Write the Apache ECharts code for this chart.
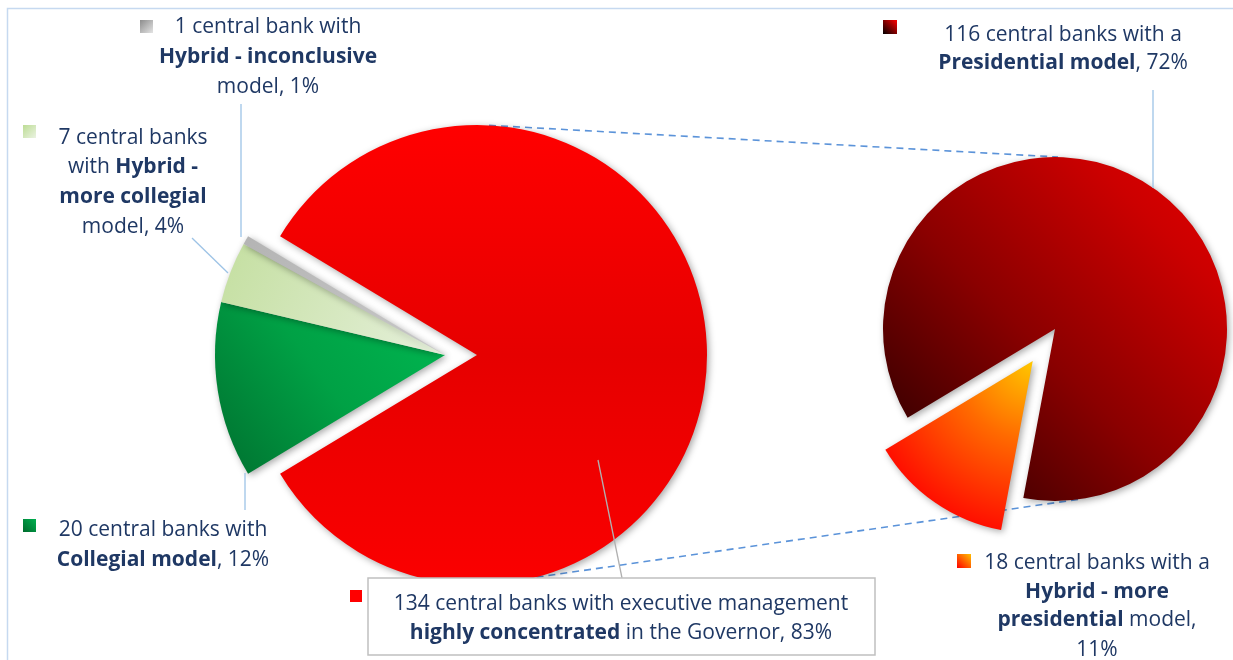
<!DOCTYPE html>
<html><head><meta charset="utf-8">
<script src="https://cdn.jsdelivr.net/npm/echarts@6/dist/echarts.min.js"></script>
<style>html,body{margin:0;padding:0;background:#fff}#c{width:1233px;height:660px}</style>
</head><body><div id="c"></div>
<script>
// ---- data ----
const mainCategories = ['Highly concentrated in the Governor', 'Collegial model', 'Hybrid - more collegial', 'Hybrid - inconclusive'];
const mainValues = [134, 20, 7, 1];
const subCategories = ['Presidential model', 'Hybrid - more presidential'];
const subValues = [116, 18];

const labelGray = ['1 central bank with', '{b|Hybrid - inconclusive}', 'model, 1%'];
const labelLightGreen = ['7 central banks', 'with {b|Hybrid -}', '{b|more collegial}', 'model, 4%'];
const labelGreen = ['20 central banks with', '{b|Collegial model}, 12%'];
const labelRed = ['134 central banks with executive management', '{b|highly concentrated} in the Governor, 83%'];
const labelPres = ['116 central banks with a', '{b|Presidential model}, 72%'];
const labelOrange = ['18 central banks with a', '{b|Hybrid - more}', '{b|presidential} model,', '11%'];

// ---- layout ----
const L = {cx: 445, cy: 355, r: 230, off: 32};
const R = {cx: 1055, cy: 329, r: 172, off: 39};
const FONT = '"Open Sans", Lato, sans-serif';
const FS = 21;
const TXT = '#1f3864';

const G = echarts.graphic;
const mainTotal = mainValues.reduce((a, b) => a + b, 0);
const subTotal = subValues.reduce((a, b) => a + b, 0);
const mainStart = 180 * mainValues[0] / mainTotal;
const subStart = 235.2 + 360 * (subValues[0] + subValues[1] / 2) / subTotal - 360;

const shadow = {shadowBlur: 7, shadowColor: 'rgba(0,0,0,0.35)', shadowOffsetX: 2, shadowOffsetY: 2};

const mainColors = [
  new G.LinearGradient(0, 0, 0, 1, [{offset: 0, color: '#ff0000'}, {offset: 0.5, color: '#e60000'}, {offset: 1, color: '#fb0000'}]),
  new G.LinearGradient(1, 0, 0, 1, [{offset: 0, color: '#00b851'}, {offset: 0.5, color: '#00a145'}, {offset: 1, color: '#00702f'}]),
  new G.LinearGradient(0, 0, 1, 1, [{offset: 0, color: '#c4dfa0'}, {offset: 1, color: '#e6f0dc'}]),
  new G.LinearGradient(0, 0, 1, 1, [{offset: 0, color: '#b4b4b4'}, {offset: 1, color: '#c8c8c8'}])
];
const subColors = [
  new G.LinearGradient(0, 1, 1, 0, [{offset: 0, color: '#1e0000'}, {offset: 0.45, color: '#8a0000'}, {offset: 0.8, color: '#cc0000'}, {offset: 1, color: '#e40000'}]),
  new G.RadialGradient(1, 0, 1.2, [{offset: 0, color: '#ffc800'}, {offset: 0.45, color: '#ff6a00'}, {offset: 1, color: '#ff0a00'}])
];

function pt(c, radius, deg) {
  const a = deg * Math.PI / 180;
  return [c[0] + radius * Math.cos(a), c[1] - radius * Math.sin(a)];
}

const graphics = [];
// frame
graphics.push({type: 'rect', z: 0, shape: {x: 7.5, y: 8.5, width: 1300, height: 700}, style: {fill: 'none', stroke: '#c6d9f0', lineWidth: 1.5}, silent: true});

// connector dashed lines
const redC = [L.cx + L.off, L.cy];
const t1 = pt(redC, L.r, 87), t2 = pt([R.cx, R.cy], R.r, 89);
const b1 = pt(redC, L.r, -75), b2 = pt([R.cx, R.cy], R.r, -81.7);
[[t1, t2], [b1, b2]].forEach(([p, q]) => graphics.push({
  type: 'line', z: 1, shape: {x1: p[0], y1: p[1], x2: q[0], y2: q[1]},
  style: {stroke: '#5b93d9', lineWidth: 1.6, lineDash: [7, 5]}, silent: true
}));

// leader lines
const leaders = [
  [[241, 104], [241, 237], '#9dc3e6'],
  [[192, 238], [228, 273], '#9dc3e6'],
  [[245, 473], [245, 510], '#9dc3e6'],
  [[1153, 90], [1153, 188], '#9dc3e6'],
  [[598, 460], [622, 578], '#b0b0b0']
];
leaders.forEach(([p, q, col]) => graphics.push({
  type: 'line', z: 10, shape: {x1: p[0], y1: p[1], x2: q[0], y2: q[1]},
  style: {stroke: col, lineWidth: 1.3}, silent: true
}));

// red label box
graphics.push({type: 'rect', z: 11, shape: {x: 368, y: 578, width: 507, height: 77}, style: {fill: '#fff', stroke: '#c0c0c0', lineWidth: 1.5}, silent: true});

// legend keys
const keys = [
  [140, 20, 13, new G.LinearGradient(0, 0, 1, 1, [{offset: 0, color: '#8c8c8c'}, {offset: 1, color: '#e4e4e4'}])],
  [23, 125, 13, new G.LinearGradient(0, 0, 1, 1, [{offset: 0, color: '#bcdc94'}, {offset: 1, color: '#ebf3e2'}])],
  [883, 20, 14, new G.LinearGradient(0, 1, 1, 0, [{offset: 0, color: '#000'}, {offset: 1, color: '#ff0000'}])],
  [23, 519, 13, new G.LinearGradient(1, 0, 0, 1, [{offset: 0, color: '#00b050'}, {offset: 1, color: '#006a2c'}])],
  [350, 590, 12, '#ff0000'],
  [957, 554, 14, new G.LinearGradient(1, 0, 0, 1, [{offset: 0, color: '#ffc000'}, {offset: 1, color: '#ff0000'}])]
];
keys.forEach(([x, y, s, fill]) => graphics.push({type: 'rect', z: 12, shape: {x, y, width: s, height: s}, style: {fill}, silent: true}));

// label texts
function addLabel(lines, cx, ys) {
  lines.forEach((t, i) => graphics.push({
    type: 'text', z: 12, x: cx, y: ys[i], silent: true,
    style: {
      text: t, fill: TXT, font: FS + 'px ' + FONT, align: 'center', verticalAlign: 'middle',
      rich: {b: {fill: TXT, fontWeight: 'bold', fontSize: FS, fontFamily: FONT}}
    }
  }));
}
addLabel(labelGray, 268, [27, 57, 87]);
addLabel(labelLightGreen, 133, [138, 167, 197, 227]);
addLabel(labelPres, 1063, [35, 63]);
addLabel(labelGreen, 163, [530, 560]);
addLabel(labelRed, 621, [604, 633]);
addLabel(labelOrange, 1097, [563, 592, 620, 650]);

const chart = echarts.init(document.getElementById('c'), null, {renderer: 'canvas'});
chart.setOption({
  animation: false,
  backgroundColor: '#fff',
  series: [
    {
      type: 'pie', center: [L.cx, L.cy], radius: L.r, startAngle: mainStart, clockwise: true,
      selectedMode: 'multiple', selectedOffset: L.off, label: {show: false}, labelLine: {show: false},
      emphasis: {disabled: true}, silent: true,
      data: mainValues.map((v, i) => ({name: mainCategories[i], value: v, selected: i === 0,
        itemStyle: Object.assign({color: mainColors[i], borderWidth: 0}, shadow)}))
    },
    {
      type: 'pie', center: [R.cx, R.cy], radius: R.r, startAngle: subStart, clockwise: true,
      selectedMode: 'multiple', selectedOffset: R.off, label: {show: false}, labelLine: {show: false},
      emphasis: {disabled: true}, silent: true,
      data: subValues.map((v, i) => ({name: subCategories[i], value: v, selected: i === 1,
        itemStyle: Object.assign({color: subColors[i], borderWidth: 0}, shadow)}))
    }
  ],
  graphic: {elements: graphics}
});
</script>
</body></html>
